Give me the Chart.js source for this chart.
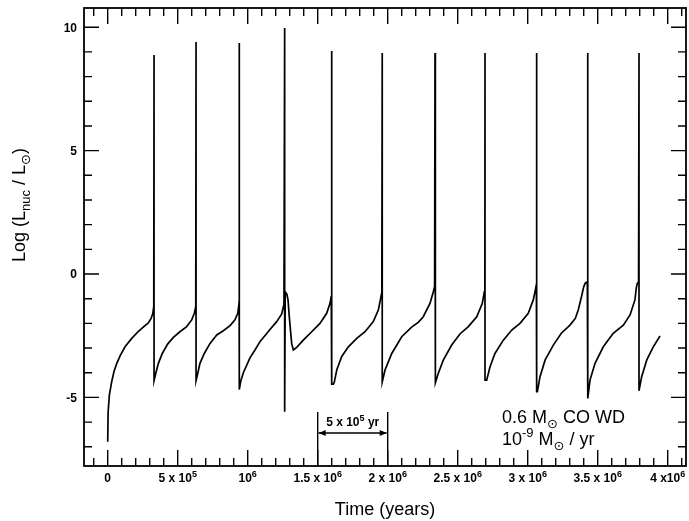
<!DOCTYPE html>
<html>
<head>
<meta charset="utf-8">
<script src="https://cdn.jsdelivr.net/npm/chart.js@4"></script>
<style>
  html, body { margin: 0; padding: 0; background: #fff; }
  #wrap { width: 689px; height: 521px; }
</style>
</head>
<body>
<div id="wrap"><canvas id="chart"></canvas></div>
<script>
// time in units of 10^6 yr, log(L_nuc / L_sun)
const timeMyr = [
  0.000, 0.003, 0.012, 0.029, 0.045, 0.065, 0.090, 0.124, 0.170, 0.220, 0.260, 0.290, 0.310, 0.322, 0.329,
  0.331, 0.331, 0.343, 0.362, 0.390, 0.428, 0.469, 0.516, 0.564, 0.600, 0.619, 0.629,
  0.631, 0.631, 0.643, 0.659, 0.690, 0.731, 0.779, 0.826, 0.874, 0.909, 0.929, 0.936, 0.939,
  0.940, 0.940, 0.950, 0.969, 1.016, 1.052, 1.090, 1.130, 1.159, 1.207, 1.243, 1.259,
  1.264, 1.264, 1.268, 1.280, 1.288, 1.297, 1.314, 1.326, 1.350, 1.397, 1.457, 1.516, 1.564, 1.588, 1.597,
  1.600, 1.600, 1.612, 1.619, 1.636, 1.671, 1.719, 1.779, 1.838, 1.897, 1.933, 1.952, 1.958,
  1.961, 1.961, 1.981, 2.029, 2.100, 2.171, 2.220, 2.254, 2.302, 2.326, 2.335,
  2.338, 2.338, 2.343, 2.361, 2.397, 2.457, 2.516, 2.576, 2.636, 2.676, 2.690, 2.694,
  2.695, 2.695, 2.707, 2.731, 2.766, 2.826, 2.886, 2.945, 3.004, 3.040, 3.057, 3.062,
  3.064, 3.064, 3.069, 3.088, 3.124, 3.183, 3.240, 3.302, 3.340, 3.361, 3.385, 3.400, 3.412, 3.426,
  3.429, 3.429, 3.445, 3.481, 3.540, 3.611, 3.683, 3.731, 3.766, 3.776, 3.783, 3.792,
  3.795, 3.795, 3.814, 3.850, 3.897, 3.945
];
const logLnuc = [
  -6.80, -5.60, -4.90, -4.35, -3.95, -3.62, -3.30, -2.95, -2.62, -2.32, -2.12, -1.98, -1.80, -1.60, -1.32,
  8.88, -4.32, -4.03, -3.62, -3.22, -2.84, -2.57, -2.34, -2.13, -1.86, -1.59, -1.32,
  9.40, -4.32, -4.03, -3.62, -3.22, -2.81, -2.47, -2.30, -2.09, -1.86, -1.59, -1.30, -1.12,
  9.36, -4.68, -4.35, -4.00, -3.40, -3.08, -2.72, -2.45, -2.25, -1.93, -1.62, -1.22,
  9.97, -5.58, -0.72, -0.82, -1.05, -1.73, -2.81, -3.08, -2.97, -2.68, -2.34, -2.00, -1.59, -1.19, -0.90,
  9.04, -4.46, -4.46, -4.37, -3.89, -3.35, -2.95, -2.61, -2.34, -1.93, -1.46, -0.92, -0.75,
  8.96, -4.37, -3.89, -3.22, -2.54, -2.15, -1.95, -1.73, -1.19, -0.72, -0.50,
  8.96, -4.41, -4.41, -4.03, -3.49, -2.88, -2.43, -2.13, -1.73, -1.19, -0.72, -0.50,
  8.96, -4.30, -4.30, -3.76, -3.22, -2.68, -2.27, -2.00, -1.59, -1.05, -0.58, -0.42,
  8.96, -4.77, -4.77, -4.16, -3.49, -2.88, -2.40, -2.07, -1.80, -1.46, -0.90, -0.52, -0.36, -0.32,
  8.96, -5.04, -4.30, -3.62, -2.95, -2.40, -2.07, -1.66, -1.05, -0.55, -0.38, -0.32,
  8.96, -4.73, -4.16, -3.49, -2.95, -2.51
];

const xMajorTicks = [0, 0.5, 1, 1.5, 2, 2.5, 3, 3.5, 4];
const xTickLabels = ['0', '5 x 10^{5}', '10^{6}', '1.5 x 10^{6}', '2 x 10^{6}', '2.5 x 10^{6}', '3 x 10^{6}', '3.5 x 10^{6}', '4 x10^{6}'];
const yMajorTicks = [-5, 0, 5, 10];
const yTickLabels = ['-5', '0', '5', '10'];

const FONT = '"Liberation Sans", Arial, "DejaVu Sans", sans-serif';

// split "a^{b}c_{d}" into plain / super / sub pieces
function pieces(text) {
  const out = [];
  const re = /([\^_])\{([^}]*)\}/g;
  let last = 0, m;
  while ((m = re.exec(text))) {
    if (m.index > last) out.push({ t: text.slice(last, m.index), k: 0 });
    out.push({ t: m[2], k: m[1] === '^' ? 1 : -1 });
    last = re.lastIndex;
  }
  if (last < text.length) out.push({ t: text.slice(last), k: 0 });
  return out;
}

function drawRich(ctx, text, x, y, size, weight, align) {
  const ps = pieces(text);
  let w = 0;
  ps.forEach(p => {
    p.size = p.k ? Math.round(size * 0.74) : size;
    ctx.font = `${weight} ${p.size}px ${FONT}`;
    p.w = ctx.measureText(p.t).width;
    w += p.w;
  });
  let cx = align === 'center' ? x - w / 2 : align === 'right' ? x - w : x;
  ctx.textAlign = 'left';
  ctx.textBaseline = 'alphabetic';
  ps.forEach(p => {
    ctx.font = `${weight} ${p.size}px ${FONT}`;
    const dy = p.k === 1 ? -size * 0.42 : p.k === -1 ? size * 0.28 : 0;
    ctx.fillText(p.t, cx, y + dy);
    cx += p.w;
  });
}

const frameAndText = {
  id: 'frameAndText',
  afterDraw(chart) {
    const { ctx, chartArea: a, scales: { x, y } } = chart;
    ctx.save();
    ctx.strokeStyle = '#000';
    ctx.fillStyle = '#000';
    ctx.lineWidth = 1.8;
    ctx.strokeRect(a.left, a.top, a.right - a.left, a.bottom - a.top);

    // inward ticks on all four sides
    ctx.lineWidth = 1.4;
    ctx.beginPath();
    for (let i = -1; i <= 41; i++) {
      const v = i / 10;
      const px = x.getPixelForValue(v);
      if (px < a.left + 1 || px > a.right - 1) continue;
      const len = i % 5 === 0 ? 16 : 8;
      ctx.moveTo(px, a.bottom); ctx.lineTo(px, a.bottom - len);
      ctx.moveTo(px, a.top); ctx.lineTo(px, a.top + len);
    }
    for (let v = -7; v <= 10; v++) {
      const py = y.getPixelForValue(v);
      const len = v % 5 === 0 ? 15 : 8;
      ctx.moveTo(a.left, py); ctx.lineTo(a.left + len, py);
      ctx.moveTo(a.right, py); ctx.lineTo(a.right - len, py);
    }
    ctx.stroke();

    // tick labels
    xMajorTicks.forEach((v, i) => {
      drawRich(ctx, xTickLabels[i], x.getPixelForValue(v), a.bottom + 16, 12, 'bold', 'center');
    });
    yMajorTicks.forEach((v, i) => {
      drawRich(ctx, yTickLabels[i], a.left - 7, y.getPixelForValue(v) + 4.3, 12, 'bold', 'right');
    });

    // axis titles
    drawRich(ctx, 'Time (years)', (a.left + a.right) / 2, a.bottom + 49, 18, 'normal', 'center');
    ctx.save();
    ctx.translate(25, 205);
    ctx.rotate(-Math.PI / 2);
    drawRich(ctx, 'Log (L_{nuc} / L_{⊙})', 0, 0, 18, 'normal', 'center');
    ctx.restore();

    // 5 x 10^5 yr scale bar
    const x1 = x.getPixelForValue(1.5), x2 = x.getPixelForValue(2.0);
    const top = a.bottom - 54, ay = a.bottom - 33;
    ctx.lineWidth = 1.4;
    ctx.beginPath();
    ctx.moveTo(x1, a.bottom); ctx.lineTo(x1, top);
    ctx.moveTo(x2, a.bottom); ctx.lineTo(x2, top);
    ctx.moveTo(x1 + 1, ay); ctx.lineTo(x2 - 1, ay);
    ctx.stroke();
    ctx.beginPath();
    ctx.moveTo(x1 + 1, ay); ctx.lineTo(x1 + 8, ay - 3); ctx.lineTo(x1 + 8, ay + 3); ctx.closePath();
    ctx.moveTo(x2 - 1, ay); ctx.lineTo(x2 - 8, ay - 3); ctx.lineTo(x2 - 8, ay + 3); ctx.closePath();
    ctx.fill();
    drawRich(ctx, '5 x 10^{5} yr', (x1 + x2) / 2, a.bottom - 40, 12, 'bold', 'center');

    // model annotation
    drawRich(ctx, '0.6 M_{⊙} CO WD', 502, 423, 18, 'normal', 'left');
    drawRich(ctx, '10^{-9} M_{⊙} / yr', 502, 445, 18, 'normal', 'left');
    ctx.restore();
  }
};

new Chart(document.getElementById('chart'), {
  type: 'line',
  data: {
    datasets: [{
      data: timeMyr.map((t, i) => ({ x: t, y: logLnuc[i] })),
      borderColor: '#000',
      borderWidth: 1.7,
      pointRadius: 0,
      tension: 0,
      fill: false
    }]
  },
  options: {
    responsive: true,
    maintainAspectRatio: false,
    animation: false,
    events: [],
    layout: { padding: { left: 84, top: 8, right: 3, bottom: 55 } },
    plugins: { legend: { display: false }, tooltip: { enabled: false } },
    scales: {
      x: { type: 'linear', display: false, min: -0.1693, max: 4.1307 },
      y: { type: 'linear', display: false, min: -7.78, max: 10.78 }
    }
  },
  plugins: [frameAndText]
});
</script>
</body>
</html>
